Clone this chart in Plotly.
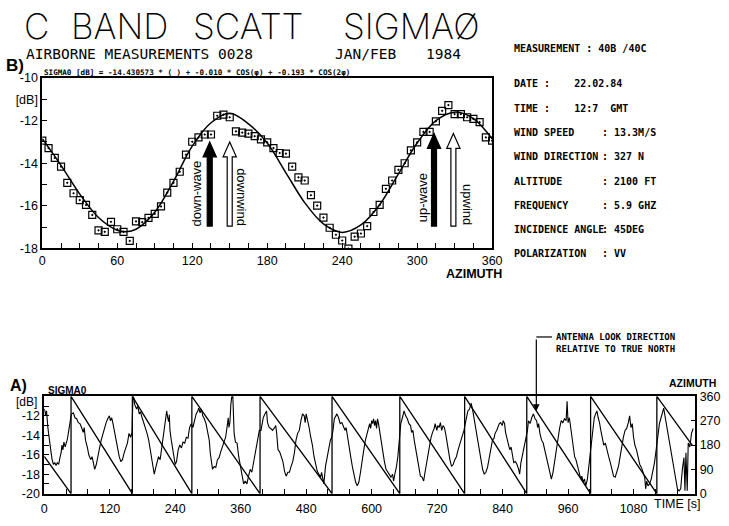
import plotly.graph_objects as go

W, H = 729, 526


def px(x):
    return x / W


def py(y):
    return 1 - y / H


# ---------------- B) sigma0 versus antenna azimuth ----------------
scan_az = [0, 5, 10, 15, 20, 25, 30, 35, 40, 45, 50, 55, 60, 65, 70, 75, 80, 85,
           90, 95, 100, 105, 110, 115, 120, 125, 130, 135, 140, 145, 150, 155, 160,
           165, 170, 175, 180, 185, 190, 195, 200, 205, 210, 215, 220, 225, 230,
           235, 240, 245, 250, 255, 260, 265, 270, 275, 280, 285, 290, 295, 300,
           305, 310, 315, 320, 325, 330, 335, 340, 345, 350, 355, 360]
scan_db = [-12.94, -13.29, -13.75, -14.16, -14.92, -15.41, -15.73, -15.96, -16.43,
           -17.15, -17.22, -16.75, -17.10, -17.22, -17.65, -16.73, -16.77, -16.57,
           -16.38, -16.03, -15.38, -14.92, -14.40, -13.60, -12.99, -12.79, -12.65,
           -12.65, -11.77, -11.72, -11.84, -12.50, -12.56, -12.61, -12.73, -12.88,
           -13.02, -13.29, -13.52, -13.55, -14.16, -14.66, -14.81, -15.50, -15.99,
           -16.55, -17.03, -17.36, -17.63, -18.01, -17.45, -17.30, -16.95, -16.29,
           -15.96, -15.20, -14.81, -14.31, -14.00, -13.40, -13.02, -12.53, -12.53,
           -12.03, -11.54, -11.27, -11.69, -11.69, -11.84, -11.92, -12.07, -12.79,
           -12.94]

fit_az = [0, 15, 30, 45, 60, 67, 75, 90, 105, 120, 135, 150, 165, 180, 195, 210,
          225, 240, 255, 270, 285, 300, 315, 330, 345, 360]
fit_db = [-12.85, -14.1, -15.45, -16.55, -17.15, -17.22, -17.1, -16.3, -14.85,
          -13.2, -12.1, -11.65, -12.15, -13.05, -14.45, -15.85, -16.85, -17.25,
          -16.9, -15.95, -14.5, -13.05, -12.0, -11.6, -11.9, -12.85]

az_ticks = list(range(0, 361, 15))
az_labels = ["0", "60", "120", "180", "240", "300", "360"]
db_ticks_b = [-18, -17, -16, -15, -14, -13, -12, -11, -10]
db_labels_b = ["-18", "", "-16", "", "-14", "", "-12", "[dB]", "-10"]

# ---------------- A) time series ----------------
time_s = [
    0.0, 1.2, 2.4, 4.2, 6.6, 8.4, 10.2, 12.6, 14.4, 16.8, 19.2, 21.6, 24.0, 26.4,
    28.8, 31.2, 32.4, 34.2, 36.0, 38.4, 40.2, 42.0, 44.4, 46.2, 48.0, 49.1,
    50.4, 53.4, 56.4, 59.4, 62.4, 65.4, 68.4, 71.4, 73.2, 75.6, 79.2, 81.6, 85.2,
    87.6, 90.0, 92.4, 95.4, 98.4, 101.4, 104.4, 107.4, 110.4, 113.4, 116.4, 119.4,
    121.2, 123.6, 126.0, 128.4, 131.4, 134.4, 137.4, 140.4, 143.4, 146.4, 149.4,
    152.4, 155.4, 158.4, 160.8,
    162.6, 164.4, 165.6, 169.2, 171.6, 174.0, 176.4, 179.4, 182.4, 185.4, 188.4,
    191.4, 194.4, 196.8, 199.2, 201.6, 204.0, 206.4, 209.4, 212.4, 215.4, 218.4,
    220.2, 222.6, 224.4, 226.2, 228.0, 229.2, 230.4, 232.8, 235.2, 237.6, 240.0,
    242.4, 245.4, 248.4, 251.4, 254.4, 257.4, 260.4, 263.4, 266.4, 269.4,
    272.4, 275.4, 278.4, 281.4, 283.2, 285.6, 288.0, 290.4, 293.4, 296.4, 299.4,
    302.4, 304.2, 306.0, 308.4, 311.4, 314.4, 317.4, 320.4, 323.4, 326.4, 329.4,
    332.4, 335.4, 337.2, 338.4, 340.2, 342.0, 343.8, 345.6, 346.8, 348.0, 350.4,
    353.4, 356.4, 359.4, 362.4, 365.4, 368.4, 371.4, 374.4, 377.4, 380.4, 383.4,
    386.4, 389.4, 392.4, 394.2,
    397.2, 399.6, 401.4, 404.4, 407.4, 409.2, 412.2, 415.2, 418.2, 421.2, 424.2,
    426.0, 428.4, 431.4, 434.4, 437.4, 440.4, 443.4, 446.4, 449.4, 452.4, 455.4,
    458.4, 461.4, 464.4, 467.4, 470.4, 473.4, 476.4, 478.2, 480.0, 482.4, 485.4,
    488.4, 491.4, 494.4, 497.4, 500.4, 503.4, 506.4, 508.2, 510.0, 512.4, 515.4,
    518.4, 521.4, 524.4, 526.8,
    529.2, 531.6, 534.0, 536.4, 539.4, 542.4, 545.4, 548.4, 551.4, 553.2, 555.6,
    558.6, 561.6, 564.6, 567.6, 570.6, 573.6, 576.6, 579.6, 582.6, 585.6, 588.6,
    591.6, 594.0, 596.4, 598.2, 600.0, 601.8, 603.6, 605.4, 607.2, 609.0, 610.8,
    612.6, 614.4, 617.4, 620.4, 623.4, 626.4, 629.4, 632.4, 635.4, 638.4, 640.2,
    643.2, 645.6, 648.0, 650.4,
    653.4, 656.4, 659.4, 662.4, 665.4, 668.4, 671.4, 673.2, 675.6, 678.0, 680.4,
    683.4, 686.4, 689.4, 692.4, 695.4, 697.2, 699.6, 702.6, 705.6, 708.6, 711.6,
    714.6, 716.4, 719.4, 721.2, 723.6, 726.0, 728.4, 730.8, 733.2, 735.6, 738.0,
    740.4, 743.4, 746.4, 749.4, 752.4, 755.4, 758.4, 761.4, 764.4, 767.4, 769.2,
    771.6, 773.4, 776.4, 779.4, 782.4, 785.4, 788.4, 791.4, 794.4, 797.4, 800.4,
    803.4, 806.4, 809.4, 812.4, 815.4, 818.4, 821.4, 824.4, 826.2, 829.2, 831.6,
    834.0, 836.4, 839.4, 841.2, 843.6, 845.4, 848.4, 851.4, 853.2, 855.6, 858.0,
    860.4, 863.4, 866.4, 869.4, 871.2, 873.6, 876.0, 878.4, 881.4, 883.8,
    885.6, 887.4, 890.4, 893.4, 896.4, 899.4, 902.4, 904.2, 906.0, 908.4, 911.4,
    914.4, 917.4, 920.4, 923.4, 926.4, 929.4, 932.4, 935.4, 938.4, 941.4, 944.4,
    947.4, 950.4, 953.4, 956.4, 958.2, 960.0, 962.4, 964.8, 967.2, 969.6, 972.0,
    974.4, 977.4, 980.4, 983.4, 985.2, 987.6, 990.0, 992.4, 995.4, 997.2, 999.6,
    1003.2, 1005.6, 1008.0, 1010.4, 1012.8, 1015.2, 1017.6, 1020.0, 1022.4,
    1025.4, 1028.4, 1031.4, 1034.4, 1037.4, 1040.4, 1043.4, 1046.4, 1049.4,
    1052.4, 1055.4, 1058.4, 1061.4, 1064.4, 1067.4, 1070.4, 1072.8, 1075.2,
    1077.6, 1080.0, 1082.4, 1085.4, 1088.4, 1091.4, 1094.4, 1097.4, 1100.4,
    1102.2, 1104.0, 1106.4, 1109.4, 1112.4, 1115.4, 1118.4, 1121.4,
    1124.4, 1127.4, 1130.4, 1133.4, 1135.2, 1137.6, 1140.0, 1142.4, 1145.4,
    1148.4, 1151.4, 1154.4, 1157.4, 1160.4, 1163.4, 1166.4, 1169.4, 1172.4,
    1174.2, 1176.0, 1178.4, 1180.2, 1183.2, 1186.2, 1189.2]
sigma_db = [
    -11.3, -11.5, -12.0, -11.5, -13.2, -14.2, -15.0, -15.8, -16.5, -17.0, -16.8,
    -17.1, -16.8, -17.0, -16.3, -15.7, -15.0, -15.5, -14.7, -15.2, -14.8, -14.5,
    -13.7, -12.8, -12.3, -12.0,
    -11.8, -11.7, -12.2, -12.3, -12.7, -12.8, -13.2, -13.7, -13.2, -14.5, -15.3,
    -16.0, -16.5, -16.2, -16.8, -17.5, -17.0, -16.3, -15.3, -14.5, -13.8, -13.2,
    -12.7, -12.3, -12.0, -12.5, -12.2, -12.8, -13.5, -14.5, -15.3, -16.2, -16.7,
    -16.5, -15.8, -15.2, -14.8, -13.8, -14.2, -13.7,
    -10.0, -10.2, -10.8, -11.3, -11.0, -11.8, -11.6, -12.2, -12.7, -13.2, -13.8,
    -14.5, -15.5, -16.5, -17.5, -18.0, -17.4, -16.7, -16.2, -16.5, -15.2, -13.8,
    -13.2, -12.0, -11.5, -12.2, -12.6, -11.9, -13.5, -14.5, -15.5, -16.5, -17.0,
    -16.7, -15.5, -15.0, -15.3, -14.7, -14.8, -14.2, -14.3, -13.2, -12.8,
    -13.2, -12.3, -11.8, -11.5, -11.2, -11.7, -11.3, -12.0, -12.3, -12.8, -13.5,
    -14.5, -15.8, -16.8, -17.5, -17.2, -17.3, -16.5, -16.3, -15.7, -15.2, -14.8,
    -14.2, -13.0, -12.2, -13.2, -12.7, -10.8, -10.0, -10.0, -12.8, -13.8, -14.7,
    -14.8, -16.2, -17.2, -18.2, -19.0, -18.7, -19.0, -18.2, -17.5, -17.8, -16.8,
    -16.2, -14.8, -13.8, -13.5,
    -13.5, -12.7, -12.2, -11.8, -11.5, -12.7, -13.2, -13.3, -13.5, -13.3, -13.0,
    -13.8, -15.5, -15.7, -16.2, -16.7, -17.7, -18.2, -17.8, -17.8, -17.2, -16.7,
    -15.8, -14.5, -13.8, -13.5, -12.5, -11.8, -12.0, -12.7, -11.8, -12.3, -13.2,
    -14.2, -15.0, -16.2, -17.0, -17.7, -18.0, -18.3, -17.8, -18.5, -19.0, -17.2,
    -16.2, -15.3, -14.5, -14.2,
    -13.5, -12.3, -12.0, -11.8, -12.2, -12.8, -12.7, -13.2, -13.5, -13.2, -14.2,
    -15.3, -16.2, -17.2, -18.2, -18.8, -19.2, -18.8, -17.8, -16.5, -15.5, -14.5,
    -13.8, -13.2, -12.8, -13.3, -12.5, -12.8, -12.3, -13.0, -12.5, -13.3, -12.3,
    -12.8, -13.5, -14.8, -15.8, -16.7, -17.5, -17.8, -18.0, -18.3, -18.0, -18.7,
    -17.8, -17.2, -16.2, -14.8,
    -12.8, -12.2, -11.5, -12.0, -12.3, -12.8, -13.0, -13.7, -13.5, -14.5, -15.2,
    -16.2, -17.2, -18.2, -18.3, -18.7, -18.0, -17.2, -16.2, -15.2, -14.3, -13.7,
    -13.3, -12.8, -13.5, -13.0, -13.2, -12.7, -13.5, -13.0, -13.2, -13.8, -14.8,
    -15.5, -16.5, -17.2, -17.0, -16.5, -16.2, -15.5, -15.0, -14.5, -13.8, -13.5,
    -12.8, -12.2, -11.5, -11.3, -10.7, -11.5, -12.5, -13.2, -14.2, -15.5, -16.2,
    -17.5, -18.0, -17.8, -17.3, -16.3, -15.5, -14.5, -14.3, -13.8, -13.5, -13.2,
    -12.8, -12.7, -13.0, -12.5, -12.8, -13.7, -14.5, -15.0, -15.5, -15.2, -16.3,
    -16.8, -16.7, -17.0, -17.5, -18.0, -16.8, -16.2, -15.5, -14.8, -14.2,
    -13.5, -12.5, -12.8, -12.2, -11.8, -12.3, -12.5, -13.2, -12.8, -13.8, -14.5,
    -14.8, -15.5, -16.2, -17.0, -17.7, -18.5, -17.8, -16.7, -15.2, -14.2, -13.3,
    -12.5, -12.7, -12.3, -12.5, -10.5, -12.7, -12.2, -13.2, -14.5, -15.2, -16.2,
    -16.5, -17.2, -18.0, -18.5, -18.2, -18.8, -18.5, -19.2, -18.5, -17.5, -16.2,
    -14.2, -12.8, -12.2, -11.8, -11.5, -12.2, -12.7, -13.5, -14.2, -15.0, -14.8,
    -15.7, -16.2, -16.8, -17.7, -18.2, -18.3, -17.8, -17.2, -16.2, -15.0, -14.2,
    -13.5, -13.3, -12.7, -12.0, -13.2, -12.8, -14.2, -15.0, -15.5, -16.2, -17.0,
    -17.3, -17.8, -18.3, -19.5, -18.7, -19.2, -19.0, -18.5, -17.8, -16.8, -15.5,
    -14.2, -12.8, -12.2, -11.5, -11.2, -12.0, -12.8, -13.8, -14.8, -15.7, -16.5,
    -17.5, -18.5, -19.5, -19.7, -19.5, -17.5, -16.3, -19.7, -15.8, -19.7, -14.8,
    -15.2, -13.8, -13.3]

# antenna look direction (sawtooth, one full turn per reset)
look_t = [0, 49.1, 49.1, 161.5, 161.5, 270.5, 270.5, 395.5, 395.5, 527.4, 527.4,
          651.6, 651.6, 770.4, 770.4, 884.3, 884.3, 1001.3, 1001.3, 1122.7,
          1122.7, 1188.0]
look_az = [138, 0, 360, 0, 360, 0, 360, 0, 360, 0, 360, 0, 360, 0, 360, 0, 360,
           0, 360, 0, 360, 178]

time_ticks = list(range(0, 1193, 40))
time_labels = ["0", "120", "240", "360", "480", "600", "720", "840", "960", "1080"]
db_ticks_a = [-20, -19, -18, -17, -16, -15, -14, -13, -12, -11, -10]
db_labels_a = ["-20", "", "-18", "", "-16", "", "-14", "", "-12", "", ""]
azi_ticks_a = [0, 90, 180, 270, 360]

SANS = "Liberation Sans, Arial, sans-serif"
MONO = "DejaVu Sans Mono, monospace"
THIN = "Inter, Liberation Sans, sans-serif"
tick_font = dict(family=SANS, size=12.5, color="black")

fig = go.Figure()

fig.add_trace(go.Scatter(
    x=fit_az, y=fit_db, mode="lines", line=dict(color="black", width=1.5,
                                                shape="spline", smoothing=1.0),
    xaxis="x", yaxis="y", showlegend=False, hoverinfo="skip"))
fig.add_trace(go.Scatter(
    x=scan_az, y=scan_db, mode="markers",
    marker=dict(symbol="square-open-dot", size=7, color="black",
                line=dict(color="black", width=1.2)),
    xaxis="x", yaxis="y", showlegend=False))

fig.add_trace(go.Scatter(
    x=time_s, y=sigma_db, mode="lines", line=dict(color="black", width=1.1),
    xaxis="x2", yaxis="y2", showlegend=False))
fig.add_trace(go.Scatter(
    x=look_t, y=look_az, mode="lines", line=dict(color="black", width=1.3),
    xaxis="x2", yaxis="y3", showlegend=False))


# wave / wind direction markers on the azimuth plot
def block_arrow(xc, y_tip, y_base, y_bottom, fill):
    s, h = 2.0, 5.3
    path = (f"M {xc - s},{y_bottom} L {xc - s},{y_base} L {xc - h},{y_base} "
            f"L {xc},{y_tip} L {xc + h},{y_base} L {xc + s},{y_base} "
            f"L {xc + s},{y_bottom} Z")
    return dict(type="path", path=path, xref="x", yref="y", fillcolor=fill,
                line=dict(color="black", width=1.2), layer="above")


shapes = [
    block_arrow(134, -13.0, -13.7, -16.95, "black"),
    block_arrow(150, -13.0, -13.7, -16.95, "white"),
    block_arrow(313.5, -12.6, -13.3, -16.95, "black"),
    block_arrow(329, -12.6, -13.3, -16.95, "white"),
    dict(type="line", xref="paper", yref="paper", x0=px(543), x1=px(559),
         y0=py(339), y1=py(339), line=dict(color="black", width=1.2)),
]

ann = []


def text(s, x, y, size, family=SANS, xanchor="left", angle=0, weight="normal"):
    ann.append(dict(text=s, x=px(x), y=py(y), xref="paper", yref="paper",
                    xanchor=xanchor, yanchor="middle", showarrow=False,
                    textangle=angle,
                    font=dict(family=family, size=size, color="black",
                              weight=weight)))


# headline
text("C", 34, 20, 35, THIN, "center", weight=200)
text("BAND", 119, 20, 35, THIN, "center", weight=200)
text("SCATT", 250, 20, 35, THIN, "center", weight=200)
text("SIGMAØ", 416, 20, 35, THIN, "center", weight=200)
text("AIRBORNE MEASUREMENTS 0028", 21, 48, 14.5, MONO)
text("JAN/FEB", 336, 48, 14.5, MONO)
text("1984", 429, 48, 14.5, MONO)

text("B)", 1, 60, 17, SANS, weight="bold")
text("<u>SIGMA0 [dB] = -14.430573 * ( ) + -0.010 * COS(φ) + -0.193 * COS(2φ)</u>",
     40, 67, 7.6, MONO, weight="bold")
text("AZIMUTH", 449, 274, 12.5, SANS, weight="bold")

text("down-wave", 197, 191, 13, SANS, "center", -90)
text("downwind", 243, 195, 13, SANS, "center", 90)
text("up-wave", 427, 196, 13, SANS, "center", -90)
text("upwind", 473, 203, 13, SANS, "center", 90)

# measurement parameters
text("MEASUREMENT : 40B /40C", 518, 43, 10, MONO, weight="bold")
text("DATE :    22.02.84", 518, 79, 10, MONO, weight="bold")
text("TIME :    12:7  GMT", 518, 104, 10, MONO, weight="bold")
params = [("WIND SPEED", ": 13.3M/S", 129), ("WIND DIRECTION", ": 327 N", 154),
          ("ALTITUDE", ": 2100 FT", 179), ("FREQUENCY", ": 5.9 GHZ", 204),
          ("INCIDENCE ANGLE", ": 45DEG", 229), ("POLARIZATION", ": VV", 253)]
for name, val, yy in params:
    text(name, 518, yy, 10, MONO, weight="bold")
    text(val, 608, yy, 10, MONO, weight="bold")

# A) panel labels
text("A)", 5, 389, 16, SANS, weight="bold")
text("SIGMA0", 44, 394, 10, SANS, weight="bold")
text("[dB]", 37, 406, 12, SANS, "right")
text("AZIMUTH", 728, 386, 10.5, SANS, "right", weight="bold")
text("TIME [s]", 661, 511, 12.5, SANS)
ann.append(dict(text="ANTENNA LOOK DIRECTION<br>RELATIVE TO TRUE NORTH",
                x=px(561), y=py(345), xref="paper", yref="paper",
                xanchor="left", yanchor="middle", align="left", showarrow=False,
                font=dict(family=MONO, size=9, color="black", weight="bold")))

# arrow to the look-direction trace
t_arrow = 901.8
seg_t0, seg_t1 = look_t[16], look_t[17]
az_arrow = look_az[16] + (look_az[17] - look_az[16]) * (t_arrow - seg_t0) / (seg_t1 - seg_t0)
ann.append(dict(text="", x=t_arrow, y=az_arrow, xref="x2", yref="y3",
                showarrow=True, ax=0, ay=-73, arrowhead=2, arrowsize=1.1,
                arrowwidth=1.2, arrowcolor="black"))

axis_common = dict(showgrid=False, zeroline=False, showline=True,
                   linecolor="black", ticks="inside", tickcolor="black",
                   ticklen=5, tickwidth=1.3, tickfont=tick_font)

fig.update_layout(
    width=W, height=H, autosize=False,
    margin=dict(l=0, r=0, t=0, b=0),
    paper_bgcolor="white", plot_bgcolor="white",
    showlegend=False,
    xaxis=dict(axis_common, domain=[px(40), px(498)], range=[0, 360],
               anchor="y", tickmode="array", tickvals=az_ticks,
               ticktext=[az_labels[i // 4] if i % 4 == 0 else ""
                         for i in range(len(az_ticks))],
               linewidth=1.8, mirror=True),
    yaxis=dict(axis_common, domain=[py(248), py(73)], range=[-18, -10],
               anchor="x", tickmode="array", tickvals=db_ticks_b,
               ticktext=db_labels_b, linewidth=1.8, mirror=True),
    xaxis2=dict(axis_common, domain=[px(42), px(705)], range=[0, 1193.4],
                anchor="y2", tickmode="array", tickvals=time_ticks,
                ticktext=[time_labels[i // 3] if i % 3 == 0 else ""
                          for i in range(len(time_ticks))],
                linewidth=1.8, mirror=True, ticklabelstandoff=2),
    yaxis2=dict(axis_common, domain=[py(500), py(400)], range=[-20, -10],
                anchor="x2", tickmode="array", tickvals=db_ticks_a,
                ticktext=db_labels_a, linewidth=1.8),
    yaxis3=dict(axis_common, overlaying="y2", side="right", anchor="x2",
                range=[0, 360], tickmode="array", tickvals=azi_ticks_a,
                linewidth=1.5),
    shapes=shapes,
    annotations=ann,
)

fig.write_html("out.html")
